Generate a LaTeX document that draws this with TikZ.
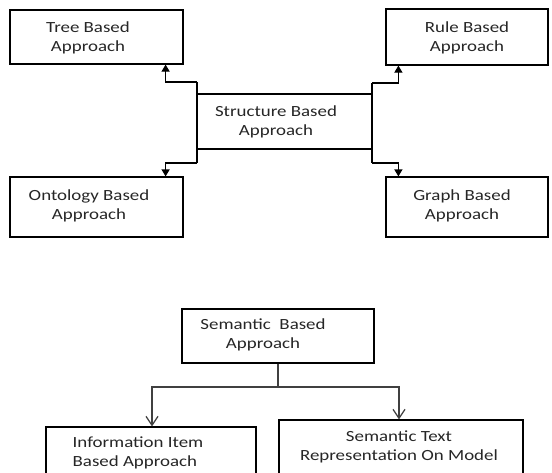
\documentclass[tikz,border=0pt]{standalone}
\usepackage{fontspec}
\setmainfont{Carlito}[FakeStretch=1.22]
\usetikzlibrary{arrows.meta}
\begin{document}
\begin{tikzpicture}[x=1pt,y=-1pt,
  box/.style={draw=black, line width=1.2pt, rectangle, inner sep=0pt},
  txt/.style={align=center, text=black!85, inner sep=0pt,
    font=\fontsize{15.5}{18.5}\selectfont},
  conn/.style={draw=black, line width=1.2pt},
  upt/.style={conn, -{Triangle[width=8pt,length=7pt]}},
  dnt/.style={conn, draw=black!75, -{Straight Barb[width=12pt,length=9pt,line width=1.2pt]}}]
\useasboundingbox (0,0) rectangle (552,472);
\clip (0,0) rectangle (552,472);
% boxes
\node[box, minimum width=173pt, minimum height=54pt] (tree) at (96.5,37) {};
\node[txt] (treet) at (88,38) {Tree Based\\Approach};
\node[box, minimum width=162pt, minimum height=56pt] (rule) at (467,37) {};
\node[txt] (rulet) at (467,38) {Rule Based\\Approach};
\node[box, minimum width=175pt, minimum height=55pt] (struct) at (284.5,121.5) {};
\node[txt] (structt) at (276,122) {Structure Based\\Approach};
\node[box, minimum width=173pt, minimum height=60pt] (onto) at (96.5,207) {};
\node[txt] (ontot) at (89,206) {Ontology Based\\Approach};
\node[box, minimum width=162pt, minimum height=60pt] (graph) at (467,207) {};
\node[txt] (grapht) at (462,206) {Graph Based\\Approach};
\node[box, minimum width=192pt, minimum height=54pt] (sem) at (278,336) {};
\node[txt] (semt) at (263,335) {Semantic\ \ Based\\Approach};
\node[box, minimum width=210pt, minimum height=60pt] (info) at (151,457) {};
\node[txt, align=left] (infot) at (138,453) {Information Item\\Based Approach};
\node[box, minimum width=244pt, minimum height=70pt] (stext) at (401,455) {};
\node[txt] (stextt) at (399,447) {Semantic Text\\Representation On Model};
% left connectors
\coordinate (sl1) at (197,82);
\coordinate (sl2) at (197,163);
\draw[conn] (sl1) -- (sl2);
\draw[upt] (sl1) -| ([xshift=-18pt]tree.south east);
\draw[upt] (sl2) -| ([xshift=-18pt]onto.north east);
% right connectors
\coordinate (sr1) at (372,83);
\coordinate (sr2) at (372,163);
\draw[conn] (sr1) -- (sr2);
\draw[upt] (sr1) -| ([xshift=13pt]rule.south west);
\draw[upt] (sr2) -| ([xshift=13pt]graph.north west);
% bottom connectors
\coordinate (sj) at (278,387);
\draw[conn, draw=black!75] (sem.south) -- (sj);
\draw[dnt] (sj) -| ([xshift=1pt]info.north);
\draw[dnt] (sj) -| ([xshift=-2pt]stext.north);
\end{tikzpicture}
\end{document}
